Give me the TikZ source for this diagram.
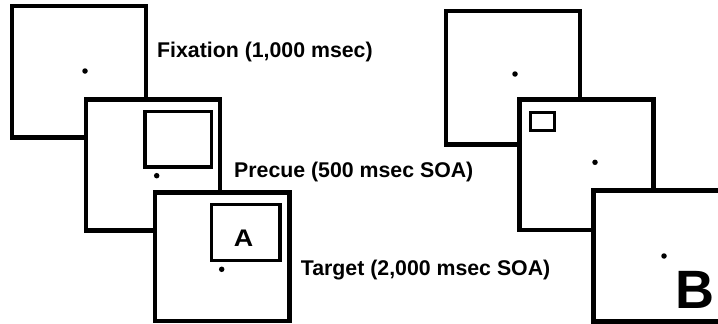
\documentclass[tikz,border=0pt]{standalone}
\usepackage{fontspec}
\setmainfont{Liberation Sans}
\usepackage{tikz}

\tikzset{
  frame/.style={draw, line width=4.5pt, fill=white, inner sep=0pt, minimum width=134pt},
  cuebox/.style={draw, line width=3.3pt, inner sep=0pt},
  fixdot/.style={circle, fill=black, inner sep=0pt, minimum size=5.5pt},
  steplabel/.style={anchor=base west, inner sep=0pt, font=\bfseries\fontsize{21.3}{24}\selectfont}
}

\begin{document}
\begin{tikzpicture}[x=1pt,y=-1pt]
      \useasboundingbox (0,0) rectangle (718,324);
      \clip (0,0) rectangle (718,324);
        % panel A
      \node[frame, minimum height=131.7pt] (fixA) at (79.2,71.7) {};
      \node[fixdot] (dotfixA) at (85,71) {};
      \node[frame, minimum height=131.3pt] (cueA) at (152.9,164.9) {};
      \node[cuebox, minimum width=66.7pt, minimum height=55.3pt] (cueboxA) at (178.4,139.4) {};
      \node[fixdot] (dotcueA) at (156.7,175.7) {};
      \node[frame, minimum width=134.5pt, minimum height=128.5pt] (targetA) at (222.3,256.8) {};
      \node[cuebox, minimum width=68.3pt, minimum height=56.2pt] (targetboxA) at (245.9,232.4) {};
      \node[anchor=base, inner sep=0pt, font=\bfseries\fontsize{24}{26}\selectfont] (letterA) at (243.5,246.5) {\scalebox{1.12}[1]{A}};
      \node[fixdot] (dottargetA) at (221.7,269.3) {};
        % step names
      \node[steplabel] (fixlabel) at (157,57.7) {Fixation (1,000 msec)};
      \node[steplabel] (cuelabel) at (234,177.3) {Precue (500 msec SOA)};
      \node[steplabel] (targetlabel) at (300.7,275) {Target (2,000 msec SOA)};
        % panel B
      \node[frame, minimum height=133.7pt] (fixB) at (512.9,77.7) {};
      \node[fixdot] (dotfixB) at (515,74) {};
      \node[frame, minimum height=130.7pt] (cueB) at (586.4,164.7) {};
      \node[cuebox, minimum width=23.8pt, minimum height=18.2pt] (cueboxB) at (542.6,121.4) {};
      \node[fixdot] (dotcueB) at (595,162.3) {};
      \node[frame, minimum width=137pt, minimum height=131.2pt] (targetB) at (662,256.1) {};
      \node[fixdot] (dottargetB) at (664,256) {};
      \node[anchor=base, inner sep=0pt, font=\bfseries\fontsize{54}{60}\selectfont] (panelB) at (694.5,308) {B};
\end{tikzpicture}
\end{document}
